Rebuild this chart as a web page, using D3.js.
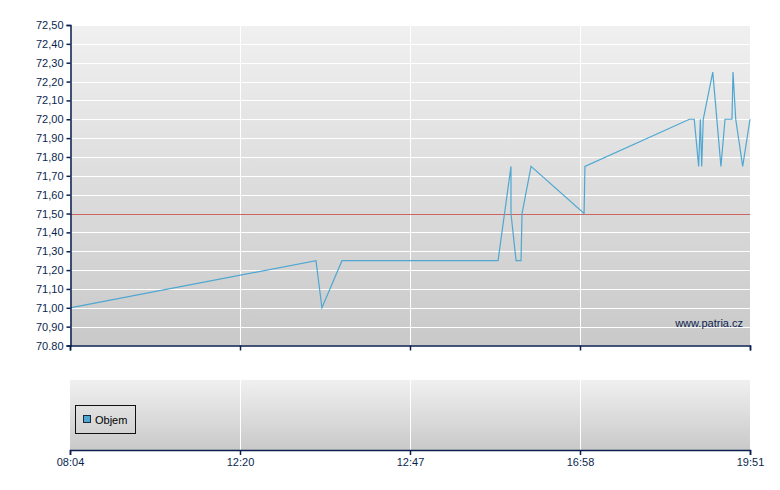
<!DOCTYPE html>
<html><head><meta charset="utf-8">
<script src="https://cdn.jsdelivr.net/npm/d3@7/dist/d3.min.js"></script>
<style>body{margin:0;background:#fff}svg{display:block}text{font-family:"Liberation Sans",Arial,sans-serif;font-size:11px;fill:#0a1f4f}</style>
</head><body>
<script>
// position along the session axis (0..4 = tick 0..tick 4) and price
const positions = [0, 1.447, 1.482, 1.600, 2.518, 2.594, 2.594, 2.624, 2.653, 2.659, 2.712, 3.024, 3.029, 3.644, 3.672, 3.698, 3.708, 3.716, 3.725, 3.781, 3.829, 3.853, 3.894, 3.900, 3.916, 3.957, 4.0];
const prices    = [71.00, 71.25, 71.00, 71.25, 71.25, 71.75, 71.50, 71.25, 71.25, 71.50, 71.75, 71.50, 71.75, 72.00, 72.00, 71.75, 72.00, 71.75, 72.00, 72.25, 71.75, 72.00, 72.00, 72.25, 72.00, 71.75, 72.00];
const refPrice = 71.50;
const xTickLabels = ["08:04", "12:20", "12:47", "16:58", "19:51"];
const yTickValues = [70.8,70.9,71.0,71.1,71.2,71.3,71.4,71.5,71.6,71.7,71.8,71.9,72.0,72.1,72.2,72.3,72.4,72.5];
const yTickLabels = ["70.80","70,90","71,00","71,10","71,20","71,30","71,40","71,50","71,60","71,70","71,80","71,90","72,00","72,10","72,20","72,30","72,40","72,50"];
const legendLabel = "Objem";
const watermark = "www.patria.cz";

const W = 780, H = 490;
const L = 70, R = 750, T = 25, B = 345.5;
const T2 = 380, B2 = 450;
const navy = "#0a1f4f";

const svg = d3.select("body").append("svg").attr("width", W).attr("height", H);
const defs = svg.append("defs");
const g1 = defs.append("linearGradient").attr("id","bg1").attr("x1",0).attr("y1",0).attr("x2",0).attr("y2",1);
g1.append("stop").attr("offset","0%").attr("stop-color","#f0f0f0");
g1.append("stop").attr("offset","100%").attr("stop-color","#c9c9c9");

const x = d3.scaleLinear().domain([0,4]).range([L,R]);
const y = d3.scaleLinear().domain([70.8,72.5]).range([B,T]);
const y2 = d3.scaleLinear().domain([0,1]).range([B2,T2]);

// main panel
svg.append("rect").attr("x",L).attr("y",T).attr("width",R-L).attr("height",B-T).attr("fill","url(#bg1)");
svg.append("g").selectAll("line").data(yTickValues.slice(1)).join("line")
  .attr("x1",L).attr("x2",R).attr("y1",d=>Math.round(y(d))+0.5).attr("y2",d=>Math.round(y(d))+0.5)
  .attr("stroke","#fff").attr("stroke-width",1);
svg.append("g").selectAll("line").data([1,2,3]).join("line")
  .attr("x1",d=>x(d)+0.5).attr("x2",d=>x(d)+0.5).attr("y1",T).attr("y2",B)
  .attr("stroke","#fff").attr("stroke-width",1);

// reference line
svg.append("line").attr("x1",L).attr("x2",R).attr("y1",Math.round(y(refPrice))+0.5).attr("y2",Math.round(y(refPrice))+0.5)
  .attr("stroke","#cc6464").attr("stroke-width",1);

// price line
const pts = positions.map((p,i)=>[p,prices[i]]);
svg.append("path").datum(pts)
  .attr("d", d3.line().x(d=>x(d[0])).y(d=>y(d[1])))
  .attr("fill","none").attr("stroke","#4fa7d1").attr("stroke-width",1.2);

svg.append("text").attr("x",743).attr("y",327).attr("text-anchor","end").text(watermark);

// y axis
const yAxis = d3.axisLeft(y).tickValues(yTickValues).tickFormat((d,i)=>yTickLabels[i]).tickSize(4).tickPadding(3);
const ya = svg.append("g").attr("transform",`translate(${L+0.5},0)`).call(yAxis);
ya.select(".domain").attr("stroke",navy).attr("stroke-width",1.5);
ya.selectAll(".tick line").attr("stroke",navy).attr("stroke-width",1.5);
ya.selectAll("text").attr("fill",navy).attr("font-size",11).attr("font-family","Liberation Sans, Arial, sans-serif");

// x axis of main panel (ticks, no labels)
const xa1 = svg.append("g").attr("transform",`translate(0,${B})`)
  .call(d3.axisBottom(x).tickValues([0,1,2,3,4]).tickSize(5).tickFormat(""));
xa1.select(".domain").attr("stroke",navy).attr("stroke-width",1.5);
xa1.selectAll(".tick line").attr("stroke",navy).attr("stroke-width",1.5);

// bottom panel
svg.append("rect").attr("x",L).attr("y",T2).attr("width",R-L).attr("height",B2-T2).attr("fill","url(#bg1)");
svg.append("g").selectAll("line").data([1,2,3]).join("line")
  .attr("x1",d=>x(d)+0.5).attr("x2",d=>x(d)+0.5).attr("y1",T2).attr("y2",B2)
  .attr("stroke","#fff").attr("stroke-width",1);
const xa2 = svg.append("g").attr("transform",`translate(0,${B2})`)
  .call(d3.axisBottom(x).tickValues([0,1,2,3,4]).tickSize(5).tickPadding(3).tickFormat((d,i)=>xTickLabels[i]));
xa2.select(".domain").attr("stroke",navy).attr("stroke-width",1.5);
xa2.selectAll(".tick line").attr("stroke",navy).attr("stroke-width",1.5);
xa2.selectAll("text").attr("fill",navy).attr("font-size",11).attr("font-family","Liberation Sans, Arial, sans-serif");

// legend
const lg = svg.append("g");
lg.append("rect").attr("x",75.5).attr("y",405.5).attr("width",60).attr("height",28).attr("fill","none").attr("stroke","#111").attr("stroke-width",1);
lg.append("rect").attr("x",83.5).attr("y",415.5).attr("width",7).attr("height",7).attr("fill","#4fa7d1").attr("stroke","#1a2a40").attr("stroke-width",1);
lg.append("text").attr("x",95).attr("y",424).style("fill","#000").text(legendLabel);
</script>
</body></html>
